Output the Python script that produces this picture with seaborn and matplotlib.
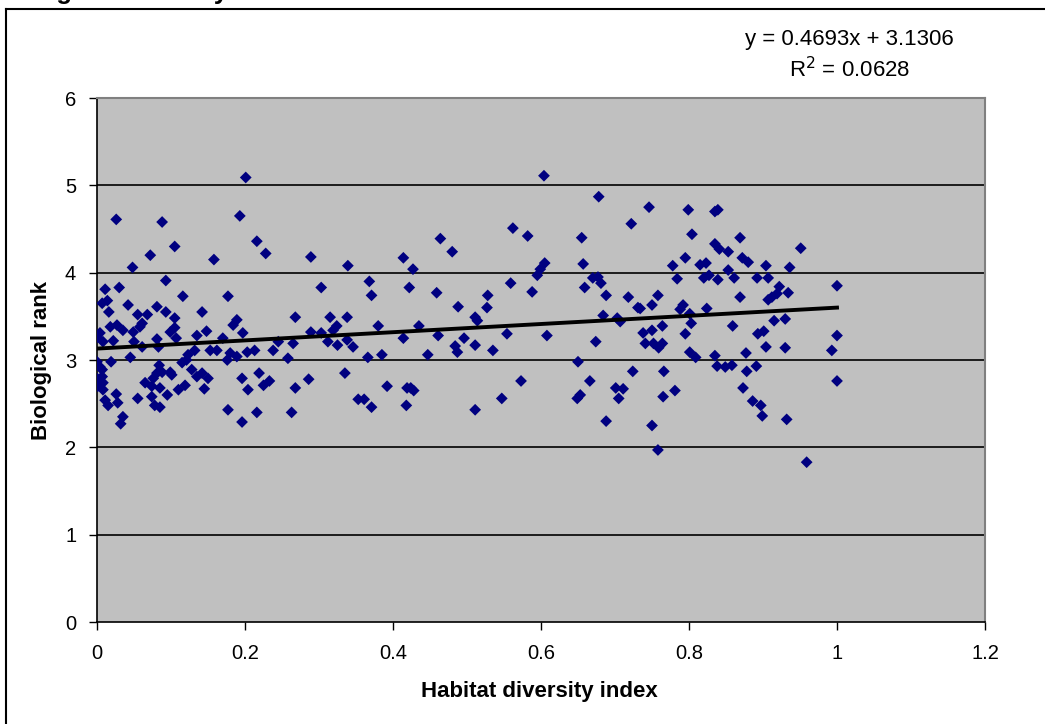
import numpy as np
import pandas as pd
import matplotlib
matplotlib.use("Agg")
import matplotlib.pyplot as plt
import seaborn as sns
from matplotlib.lines import Line2D

# ---------------- data ----------------
habitat_x = [
    # x 0 - 0.21
    0.201, 0.026, 0.088, 0.193, 0.105, 0.072, 0.048, 0.158, 0.093, 0.011, 0.030, 0.116, 0.177,
    0.007, 0.014, 0.042, 0.016, 0.081, 0.093, 0.055, 0.068, 0.105, 0.142, 0.189, 0.184, 0.018,
    0.027, 0.035, 0.004, 0.000, 0.049, 0.058, 0.061, 0.099, 0.105, 0.148, 0.197, 0.008, 0.022,
    0.050, 0.081, 0.083, 0.107, 0.135, 0.170, 0.061, 0.153, 0.162, 0.132, 0.123, 0.180, 0.189,
    0.203, 0.045, 0.000, 0.004, 0.007, 0.019, 0.115, 0.121, 0.176, 0.084, 0.000, 0.007, 0.008,
    0.081, 0.088, 0.099, 0.101, 0.128, 0.135, 0.142, 0.150, 0.196, 0.204, 0.065, 0.076, 0.074,
    0.085, 0.001, 0.008, 0.026, 0.110, 0.119, 0.095, 0.145, 0.011, 0.015, 0.028, 0.055, 0.074,
    0.078, 0.085, 0.177, 0.196, 0.035, 0.032,
    # x 0.21 - 0.46
    0.216, 0.228, 0.289, 0.339, 0.414, 0.427, 0.303, 0.368, 0.371, 0.422, 0.268, 0.315, 0.338,
    0.324, 0.319, 0.289, 0.303, 0.380, 0.435, 0.245, 0.265, 0.312, 0.325, 0.338, 0.346, 0.414,
    0.213, 0.238, 0.258, 0.366, 0.385, 0.447, 0.219, 0.225, 0.233, 0.268, 0.286, 0.335, 0.392,
    0.419, 0.424, 0.428, 0.216, 0.263, 0.353, 0.361, 0.371, 0.418,
    # x 0.46 - 0.73
    0.604, 0.678, 0.722, 0.464, 0.480, 0.562, 0.582, 0.655, 0.605, 0.599, 0.595, 0.657, 0.670,
    0.677, 0.681, 0.559, 0.588, 0.659, 0.688, 0.718, 0.731, 0.459, 0.488, 0.528, 0.527, 0.511,
    0.514, 0.684, 0.703, 0.707, 0.461, 0.496, 0.484, 0.487, 0.511, 0.535, 0.554, 0.608, 0.674,
    0.650, 0.724, 0.573, 0.666, 0.547, 0.511, 0.649, 0.653, 0.701, 0.711, 0.705, 0.688,
    # x 0.73 - 0.87
    0.746, 0.799, 0.835, 0.839, 0.804, 0.835, 0.841, 0.853, 0.795, 0.778, 0.784, 0.815, 0.823,
    0.820, 0.827, 0.839, 0.853, 0.861, 0.758, 0.734, 0.750, 0.792, 0.788, 0.824, 0.801, 0.803,
    0.764, 0.750, 0.738, 0.795, 0.859, 0.741, 0.752, 0.759, 0.764, 0.801, 0.809, 0.835, 0.838,
    0.849, 0.858, 0.766, 0.765, 0.781, 0.750, 0.758,
    # x 0.87 - 1.0
    0.869, 0.951, 0.872, 0.880, 0.904, 0.936, 0.892, 0.907, 0.869, 0.922, 0.934, 0.919, 0.912,
    0.907, 1.000, 0.915, 0.930, 0.893, 0.901, 0.904, 0.930, 1.000, 0.993, 0.877, 0.878, 0.891,
    0.873, 0.886, 0.897, 0.899, 0.932, 1.000, 0.959,
]
biological_rank = [
    5.09, 4.61, 4.58, 4.65, 4.30, 4.20, 4.06, 4.15, 3.91, 3.81, 3.83, 3.73, 3.73,
    3.65, 3.68, 3.63, 3.55, 3.61, 3.55, 3.52, 3.52, 3.48, 3.55, 3.46, 3.40, 3.38,
    3.40, 3.34, 3.31, 3.26, 3.32, 3.38, 3.42, 3.32, 3.37, 3.33, 3.31, 3.21, 3.22,
    3.21, 3.24, 3.15, 3.25, 3.28, 3.25, 3.15, 3.11, 3.11, 3.11, 3.06, 3.08, 3.04,
    3.09, 3.03, 2.98, 2.92, 2.89, 2.98, 2.97, 3.00, 3.00, 2.94, 2.79, 2.81, 2.74,
    2.85, 2.86, 2.86, 2.83, 2.89, 2.81, 2.85, 2.79, 2.79, 2.66, 2.74, 2.79, 2.70,
    2.68, 2.70, 2.66, 2.61, 2.66, 2.71, 2.60, 2.67, 2.54, 2.48, 2.51, 2.56, 2.58,
    2.48, 2.46, 2.43, 2.29, 2.35, 2.27,
    4.36, 4.22, 4.18, 4.08, 4.17, 4.04, 3.83, 3.90, 3.74, 3.83, 3.49, 3.49, 3.49,
    3.39, 3.34, 3.32, 3.31, 3.39, 3.39, 3.21, 3.19, 3.21, 3.17, 3.23, 3.15, 3.25,
    3.11, 3.11, 3.02, 3.03, 3.06, 3.06, 2.85, 2.71, 2.76, 2.68, 2.78, 2.85, 2.70,
    2.68, 2.68, 2.65, 2.40, 2.40, 2.55, 2.55, 2.46, 2.48,
    5.11, 4.87, 4.56, 4.39, 4.24, 4.51, 4.42, 4.40, 4.11, 4.04, 3.97, 4.10, 3.94,
    3.95, 3.88, 3.88, 3.78, 3.83, 3.74, 3.72, 3.60, 3.77, 3.61, 3.74, 3.60, 3.49,
    3.45, 3.51, 3.48, 3.44, 3.28, 3.25, 3.16, 3.09, 3.17, 3.11, 3.30, 3.28, 3.21,
    2.98, 2.87, 2.76, 2.76, 2.56, 2.43, 2.56, 2.60, 2.68, 2.67, 2.56, 2.30,
    4.75, 4.72, 4.70, 4.72, 4.44, 4.33, 4.27, 4.24, 4.17, 4.08, 3.93, 4.09, 4.11,
    3.94, 3.97, 3.92, 4.03, 3.94, 3.74, 3.59, 3.63, 3.63, 3.58, 3.59, 3.53, 3.42,
    3.39, 3.34, 3.31, 3.30, 3.39, 3.19, 3.19, 3.14, 3.19, 3.09, 3.03, 3.05, 2.93,
    2.92, 2.94, 2.87, 2.58, 2.65, 2.25, 1.97,
    4.40, 4.28, 4.17, 4.12, 4.08, 4.06, 3.94, 3.94, 3.72, 3.84, 3.77, 3.76, 3.72,
    3.69, 3.85, 3.45, 3.47, 3.30, 3.33, 3.15, 3.14, 3.28, 3.11, 3.08, 2.87, 2.93,
    2.68, 2.53, 2.48, 2.36, 2.32, 2.76, 1.83,
]
trend_slope = 0.4693
trend_intercept = 3.1306
trend_r2 = 0.0628
x_ticks = [0, 0.2, 0.4, 0.6, 0.8, 1, 1.2]
x_tick_labels = ["0", "0.2", "0.4", "0.6", "0.8", "1", "1.2"]
y_ticks = [0, 1, 2, 3, 4, 5, 6]
x_label = "Habitat diversity index"
y_label = "Biological rank"
top_text = "Biological diversity"

df = pd.DataFrame({"x": habitat_x, "y": biological_rank})
xs = np.array([df["x"].min(), df["x"].max()])
trend = pd.DataFrame({"x": xs, "y": trend_slope * xs + trend_intercept})

# ---------------- figure ----------------
W, H = 1045, 724
fig = plt.figure(figsize=(W / 100, H / 100), dpi=100)
fig.patch.set_facecolor("white")
plt.rcParams["font.family"] = ["Liberation Sans", "DejaVu Sans"]

ax = fig.add_axes([97 / W, 1 - 622 / H, (985 - 97) / W, (622 - 98) / H])
ax.set_facecolor("#C0C0C0")

ax.set_xlim(0, 1.2)
ax.set_ylim(0, 6)
for yv in y_ticks[1:-1]:
    ax.axhline(yv, color="black", lw=1.2, zorder=1)

sns.scatterplot(data=df, x="x", y="y", ax=ax, marker="D", s=36, color="#000080",
                edgecolor="none", linewidth=0, zorder=3, legend=False)
sns.lineplot(data=trend, x="x", y="y", ax=ax, color="black", lw=2.8, zorder=4)

ax.set_xticks(x_ticks)
ax.set_xticklabels(x_tick_labels)
ax.set_yticks(y_ticks)
ax.tick_params(axis="both", direction="out", length=6, width=1, colors="black",
               labelsize=14.5)
ax.tick_params(axis="x", pad=10)
ax.tick_params(axis="y", pad=9)

for side in ["left", "bottom"]:
    ax.spines[side].set_color("black")
    ax.spines[side].set_linewidth(1.2)
for side in ["top", "right"]:
    ax.spines[side].set_color("#808080")
    ax.spines[side].set_linewidth(1.5)

ax.set_xlabel("")
ax.set_ylabel("")
fig.text(539 / W, 1 - 692 / H, x_label, ha="center", va="center",
         fontsize=16, fontweight="bold")
fig.text(42 / W, 1 - 360 / H, y_label, ha="center", va="center",
         rotation=90, fontsize=16, fontweight="bold")

fig.text(849 / W, 1 - 39 / H, f"y = {trend_slope:.4f}x + {trend_intercept:.4f}",
         ha="center", va="center", fontsize=16)
fig.text(850 / W, 1 - 70 / H, f"R$^2$ = {trend_r2:.4f}",
         ha="center", va="center", fontsize=16)

# cropped title fragment at the very top
fig.text(-8 / W, 1 + 1.5 / H, top_text, ha="left", va="baseline",
         fontsize=18.5, fontweight="bold")

# outer chart border (top and left edges visible)
fig.add_artist(Line2D([6 / W, 1.0], [1 - 9 / H, 1 - 9 / H], transform=fig.transFigure,
                      color="black", lw=1.5))
fig.add_artist(Line2D([6 / W, 6 / W], [0, 1 - 9 / H], transform=fig.transFigure,
                      color="black", lw=1.5))

fig.savefig("out.png", dpi=100, facecolor="white")
